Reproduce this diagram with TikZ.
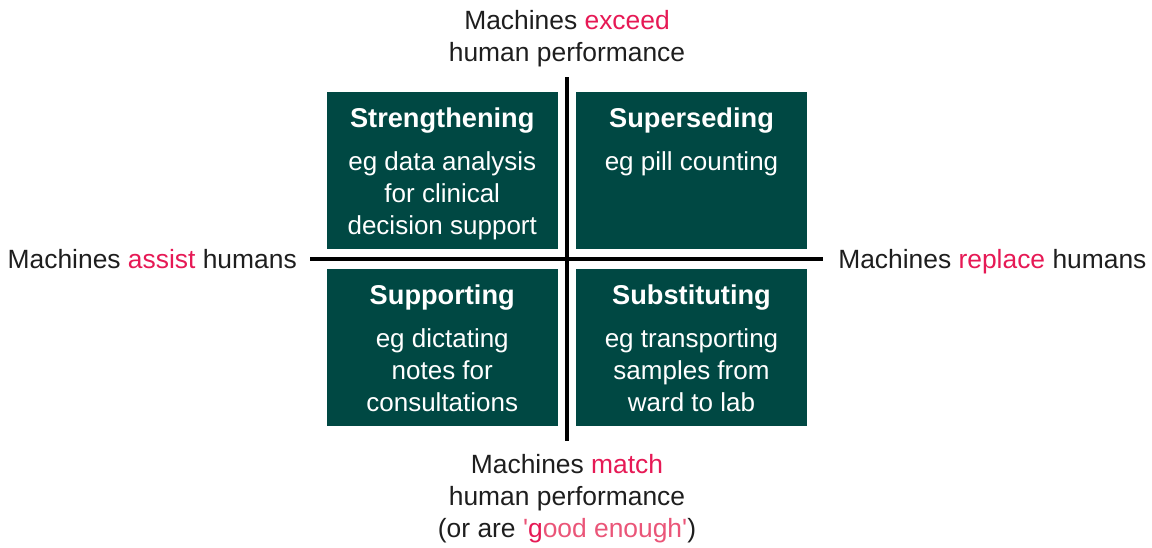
\documentclass[tikz,border=0pt]{standalone}
\usepackage{fontspec}
\setmainfont{Liberation Sans}
\definecolor{boxteal}{RGB}{0,72,67}
\definecolor{accent}{RGB}{230,25,85}
\definecolor{accentlight}{RGB}{234,85,120}
\definecolor{labelgrey}{RGB}{30,30,30}
\begin{document}
\begin{tikzpicture}[x=0.75pt,y=-0.75pt,
  quad/.style={fill=boxteal, draw=none, inner sep=0pt, minimum width=172.9pt, minimum height=117.6pt},
  axis/.style={draw=black, line width=2.3pt},
  lbl/.style={inner sep=0pt, align=center, text=labelgrey, font=\fontsize{19.8}{24}\selectfont},
  ttl/.style={inner sep=0pt, anchor=base, text=white, font=\fontsize{20.4}{24}\selectfont\bfseries},
  body/.style={inner sep=0pt, anchor=north, align=center, text=white, font=\fontsize{19.5}{24}\selectfont}]
\useasboundingbox (0,0) rectangle (1152,547);
% quadrants
\node[quad] (tl) at (442.25,170.5) {};
\node[quad] (tr) at (691.5,170.5) {};
\node[quad] (bl) at (442.25,347.25) {};
\node[quad] (br) at (691.5,347.25) {};
% axes
\coordinate (axtop) at (567,77);
\coordinate (axbot) at (567,441);
\coordinate (axleft) at (310,259);
\coordinate (axright) at (823,259);
\draw[axis] (axleft) -- (axright);
\draw[axis] (axtop) -- (axbot);
% box texts
\node[ttl] (tlt) at (442.25,127) {Strengthening};
\node[body] (tlb) at (442.25,151) {eg data analysis\\for clinical\\decision support};
\node[ttl] (trt) at (691.5,127) {Superseding};
\node[body] (trb) at (691.5,151) {eg pill counting};
\node[ttl] (blt) at (442.25,304) {Supporting};
\node[body] (blb) at (442.25,328) {eg dictating\\notes for\\consultations};
\node[ttl] (brt) at (691.5,304) {Substituting};
\node[body] (brb) at (691.5,328) {eg transporting\\samples from\\ward to lab};
% axis labels
\node[lbl] (toplbl) at (567,39) {Machines \textcolor{accent}{exceed}\\human performance};
\node[lbl, anchor=base east] (leftlbl) at (297,268.5) {Machines \textcolor{accent}{assist} humans};
\node[lbl, anchor=base west] (rightlbl) at (838,268.5) {Machines \textcolor{accent}{replace} humans};
\node[lbl] (botlbl) at (567,499) {Machines \textcolor{accent}{match}\\human performance\\(or are \textcolor{accentlight}{\textquotesingle}\textcolor{accent}{g}\textcolor{accentlight}{ood enough\textquotesingle})};
\end{tikzpicture}
\end{document}
